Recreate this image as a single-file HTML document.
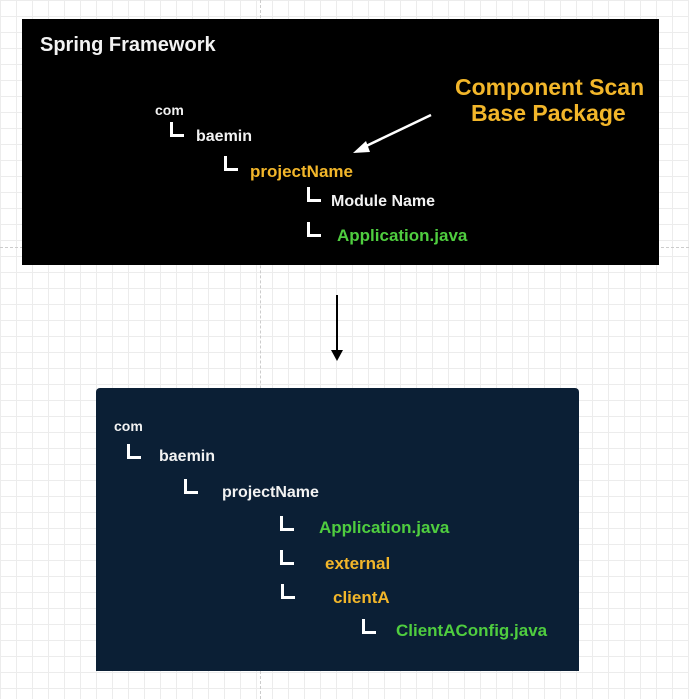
<!DOCTYPE html>
<html><head><meta charset="utf-8"><style>
html,body{margin:0;padding:0}
body{width:689px;height:699px;position:relative;overflow:hidden;background-color:#fff;
background-image:linear-gradient(#ececec 1px,transparent 1px),linear-gradient(90deg,#ececec 1px,transparent 1px);
background-size:16px 16px;font-family:"Liberation Sans","DejaVu Sans",sans-serif;font-weight:bold}
.t{position:absolute;white-space:nowrap;line-height:1}
.l{position:absolute;width:11px;height:12px;border-left:3px solid #fff;border-bottom:3px solid #fff}
.w{color:#f2f2f2}.y{color:#f2b62a}.g{color:#4fcd3f}
</style></head><body>
<div style="position:absolute;left:260px;top:0;height:699px;border-left:1px dashed #ccc"></div>
<div style="position:absolute;left:0;top:247px;width:689px;border-top:1px dashed #ccc"></div>
<div style="position:absolute;left:22px;top:19px;width:637px;height:246px;background:#000"></div>
<div class="t w" style="left:40px;top:35px;font-size:20px">Spring Framework</div>
<div class="t w" style="left:155px;top:103px;font-size:14px">com</div>
<div class="l" style="left:170px;top:122px"></div>
<div class="t w" style="left:196px;top:129px;font-size:16px">baemin</div>
<div class="l" style="left:224px;top:156px"></div>
<div class="t y" style="left:250px;top:163px;font-size:17px">projectName</div>
<div class="l" style="left:307px;top:187px"></div>
<div class="t w" style="left:331px;top:194px;font-size:16px">Module Name</div>
<div class="l" style="left:307px;top:222px"></div>
<div class="t g" style="left:337px;top:227px;font-size:17px">Application.java</div>
<div class="t y" style="left:455px;top:76px;font-size:23px">Component Scan</div>
<div class="t y" style="left:471px;top:102px;font-size:23px">Base Package</div>
<svg style="position:absolute;left:0;top:0" width="689" height="699">
<line x1="431" y1="115" x2="362" y2="148" stroke="#fff" stroke-width="2.5"/>
<polygon points="353,153 366,141 370,152" fill="#fff"/>
<line x1="337" y1="295" x2="337" y2="352" stroke="#000" stroke-width="2"/>
<polygon points="331,350 343,350 337,361" fill="#000"/>
</svg>
<div style="position:absolute;left:96px;top:388px;width:483px;height:283px;background:#0b1f35;border-radius:4px 4px 0 0"></div>
<div class="t w" style="left:114px;top:419px;font-size:14px">com</div>
<div class="l" style="left:127px;top:444px"></div>
<div class="t w" style="left:159px;top:449px;font-size:16px">baemin</div>
<div class="l" style="left:184px;top:479px"></div>
<div class="t w" style="left:222px;top:485px;font-size:16px">projectName</div>
<div class="l" style="left:280px;top:516px"></div>
<div class="t g" style="left:319px;top:519px;font-size:17px">Application.java</div>
<div class="l" style="left:280px;top:550px"></div>
<div class="t y" style="left:325px;top:555px;font-size:17px">external</div>
<div class="l" style="left:281px;top:584px"></div>
<div class="t y" style="left:333px;top:589px;font-size:17px">clientA</div>
<div class="l" style="left:362px;top:619px"></div>
<div class="t g" style="left:396px;top:622px;font-size:17px">ClientAConfig.java</div>
</body></html>
